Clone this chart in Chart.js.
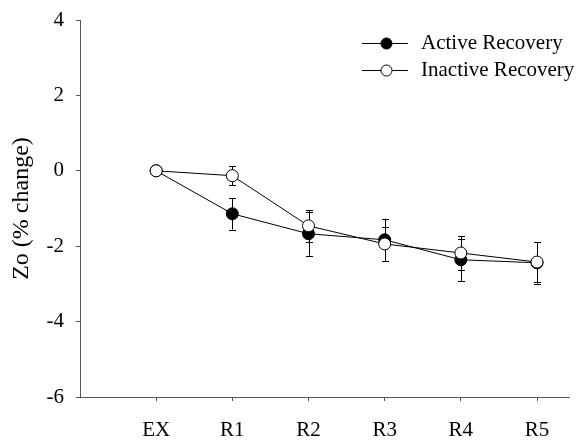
<!DOCTYPE html>
<html>
<head>
<meta charset="utf-8">
<script src="https://cdn.jsdelivr.net/npm/chart.js@4/dist/chart.umd.min.js"></script>
<style>
html,body{margin:0;padding:0;background:#fff;}
#wrap{width:576px;height:440px;position:relative;}
</style>
</head>
<body>
<div id="wrap"><canvas id="c" width="576" height="440"></canvas></div>
<script>
const categories = ['EX', 'R1', 'R2', 'R3', 'R4', 'R5'];
const activeValues = [0, -1.14, -1.67, -1.83, -2.36, -2.44];
const activeErrors = [0, 0.42, 0.58, 0.56, 0.56, 0.55];
const inactiveValues = [0, -0.13, -1.46, -1.94, -2.18, -2.42];
const inactiveErrors = [0, 0.25, 0.42, 0.45, 0.44, 0.53];
const yTicks = [-6, -4, -2, 0, 2, 4];
const seriesNames = ['Active Recovery', 'Inactive Recovery'];

const FONT = "'Liberation Serif', 'Times New Roman', serif";

function toPoints(vals) {
  return vals.map((v, i) => ({ x: i + 1, y: v }));
}

const errorBarPlugin = {
  id: 'errorBars',
  beforeDatasetsDraw(chart) {
    const ctx = chart.ctx;
    const xs = chart.scales.x, ys = chart.scales.y;
    ctx.save();
    ctx.strokeStyle = '#000';
    ctx.lineWidth = 1;
    chart.data.datasets.forEach(ds => {
      ds.data.forEach((p, i) => {
        const e = ds.errors[i];
        if (!e) return;
        const x = Math.round(xs.getPixelForValue(p.x)) + 0.5;
        const yTop = ys.getPixelForValue(p.y + e);
        const yBot = ys.getPixelForValue(p.y - e);
        ctx.beginPath();
        ctx.moveTo(x, yTop); ctx.lineTo(x, yBot);
        ctx.moveTo(x - 3.5, Math.round(yTop) + 0.5); ctx.lineTo(x + 3.5, Math.round(yTop) + 0.5);
        ctx.moveTo(x - 3.5, Math.round(yBot) + 0.5); ctx.lineTo(x + 3.5, Math.round(yBot) + 0.5);
        ctx.stroke();
      });
    });
    ctx.restore();
  }
};

const legendPlugin = {
  id: 'customLegend',
  afterDraw(chart) {
    const ctx = chart.ctx;
    ctx.save();
    const rows = [
      { name: seriesNames[0], fill: '#000', y: 43.5 },
      { name: seriesNames[1], fill: '#fff', y: 70.5 }
    ];
    rows.forEach(r => {
      ctx.strokeStyle = '#000';
      ctx.lineWidth = 1;
      ctx.beginPath();
      ctx.moveTo(362, r.y); ctx.lineTo(408, r.y);
      ctx.stroke();
      ctx.beginPath();
      ctx.arc(386.5, r.y, 5.5, 0, Math.PI * 2);
      ctx.fillStyle = r.fill;
      ctx.fill();
      ctx.stroke();
      ctx.fillStyle = '#000';
      ctx.font = '21px ' + FONT;
      ctx.textBaseline = 'middle';
      ctx.textAlign = 'left';
      ctx.fillText(r.name, 421, r.y);
    });
    ctx.restore();
  }
};

new Chart(document.getElementById('c'), {
  type: 'line',
  data: {
    datasets: [
      {
        label: seriesNames[0],
        data: toPoints(activeValues),
        errors: activeErrors,
        borderColor: '#000',
        borderWidth: 1,
        backgroundColor: '#000',
        pointBackgroundColor: '#000',
        pointBorderColor: '#000',
        pointBorderWidth: 1,
        pointRadius: 6,
        tension: 0,
        order: 2
      },
      {
        label: seriesNames[1],
        data: toPoints(inactiveValues),
        errors: inactiveErrors,
        borderColor: '#000',
        borderWidth: 1,
        backgroundColor: '#fff',
        pointBackgroundColor: '#fff',
        pointBorderColor: '#000',
        pointBorderWidth: 1,
        pointRadius: 6,
        tension: 0,
        order: 1
      }
    ]
  },
  options: {
    responsive: false,
    animation: false,
    layout: { padding: { top: 20, right: 0, left: 0, bottom: 0 } },
    plugins: {
      legend: { display: false },
      tooltip: { enabled: false }
    },
    scales: {
      x: {
        type: 'linear',
        min: 0,
        max: 6.42,
        afterBuildTicks(scale) {
          scale.ticks = categories.map((c, i) => ({ value: i + 1 }));
        },
        afterFit(scale) { scale.height = 43; scale.paddingLeft = 0; scale.paddingRight = 0; },
        ticks: {
          autoSkip: false,
          maxRotation: 0,
          padding: 17,
          color: '#000',
          font: { family: FONT, size: 21 },
          callback: (v) => categories[v - 1] || ''
        },
        grid: { drawOnChartArea: false, drawTicks: true, tickLength: 4, color: '#555' },
        border: { display: true, color: '#555', width: 1 }
      },
      y: {
        min: -6,
        max: 4,
        afterBuildTicks(scale) {
          scale.ticks = yTicks.map(v => ({ value: v }));
        },
        afterFit(scale) { scale.width = 80; scale.paddingTop = 0; scale.paddingBottom = 0; },
        ticks: {
          padding: 12,
          color: '#000',
          font: { family: FONT, size: 21 }
        },
        title: {
          display: true,
          text: 'Zo (% change)',
          color: '#000',
          font: { family: FONT, size: 24 },
          padding: { top: 7, bottom: 0 }
        },
        grid: { drawOnChartArea: false, drawTicks: true, tickLength: 4, color: '#555' },
        border: { display: true, color: '#555', width: 1 }
      }
    }
  },
  plugins: [errorBarPlugin, legendPlugin]
});
</script>
</body>
</html>
